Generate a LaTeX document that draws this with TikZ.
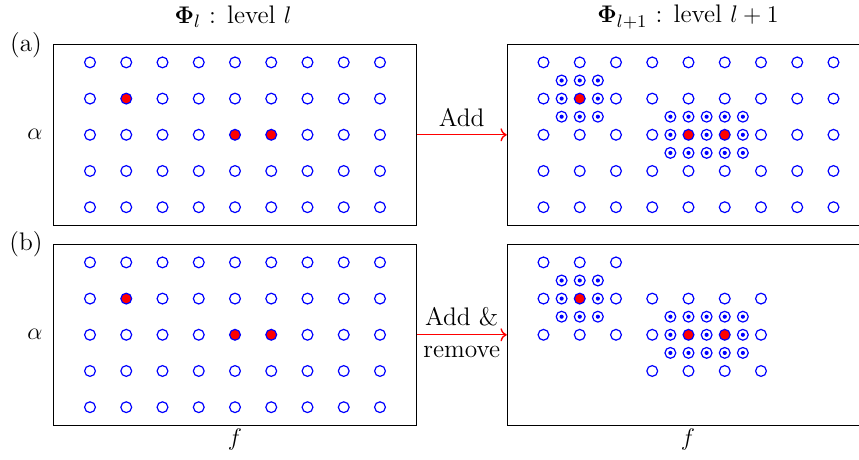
\documentclass[tikz,border=0pt]{standalone}
\usetikzlibrary{arrows.meta}
\begin{document}
\begin{tikzpicture}[x=0.5pt,y=-0.5pt,
  font=\fontsize{12.7}{15.2}\selectfont,
  pt/.style={circle,draw=blue,line width=0.6pt,minimum size=5.4pt,inner sep=0pt},
  redpt/.style={pt,fill=red},
  dotpt/.style={pt,path picture={\fill[blue] (path picture bounding box.center) circle (1.05pt);}},
  panel/.style={draw=black,line width=0.5pt,minimum width=181.25pt,minimum height=90.5pt,inner sep=0pt},
  conn/.style={red,line width=0.7pt,->},
  lbl/.style={text=black}]
\useasboundingbox (0,0) rectangle (859,460);
\clip (0,0) rectangle (859,460);

% ---------- (a) left panel
\begin{scope}[xshift=45pt,yshift=-31.2pt,x=9.0625pt,y=-9.05pt]
  \node[panel] (LA) at (8,4) {};
  \foreach \c in {0,...,8}{\foreach \r in {0,...,4}{
    \pgfmathtruncatemacro\isr{((\c==1)&&(\r==1))||((\c==4)&&(\r==2))||((\c==5)&&(\r==2))}
    \ifnum\isr=1 \node[redpt] (LA-\c-\r) at ({2*\c},{2*\r}) {};
    \else \node[pt] (LA-\c-\r) at ({2*\c},{2*\r}) {}; \fi
  }}
\end{scope}

% ---------- (a) right panel
\begin{scope}[xshift=271.75pt,yshift=-31.2pt,x=9.0625pt,y=-9.05pt]
  \node[panel] (RA) at (8,4) {};
  \foreach \c in {0,...,8}{\foreach \r in {0,...,4}{
    \pgfmathtruncatemacro\isr{((\c==1)&&(\r==1))||((\c==4)&&(\r==2))||((\c==5)&&(\r==2))}
    \ifnum\isr=1 \node[redpt] (RA-\c-\r) at ({2*\c},{2*\r}) {};
    \else \node[pt] (RA-\c-\r) at ({2*\c},{2*\r}) {}; \fi
  }}
  \foreach \u/\v in {1/1,2/1,3/1,1/2,3/2,1/3,2/3,3/3,7/3,8/3,9/3,10/3,11/3,7/4,9/4,11/4,7/5,8/5,9/5,10/5,11/5}
    \node[dotpt] (RAd-\u-\v) at (\u,\v) {};
\end{scope}

% ---------- (b) left panel
\begin{scope}[xshift=45pt,yshift=-131.2pt,x=9.0625pt,y=-9.05pt]
  \node[panel] (LB) at (8,4) {};
  \foreach \c in {0,...,8}{\foreach \r in {0,...,4}{
    \pgfmathtruncatemacro\isr{((\c==1)&&(\r==1))||((\c==4)&&(\r==2))||((\c==5)&&(\r==2))}
    \ifnum\isr=1 \node[redpt] (LB-\c-\r) at ({2*\c},{2*\r}) {};
    \else \node[pt] (LB-\c-\r) at ({2*\c},{2*\r}) {}; \fi
  }}
\end{scope}

% ---------- (b) right panel
\begin{scope}[xshift=271.75pt,yshift=-131.2pt,x=9.0625pt,y=-9.05pt]
  \node[panel] (RB) at (8,4) {};
  \foreach \c in {0,...,8}{\foreach \r in {0,...,4}{
    \pgfmathtruncatemacro\isr{((\c==1)&&(\r==1))||((\c==4)&&(\r==2))||((\c==5)&&(\r==2))}
    \pgfmathtruncatemacro\keep{((\c<=2)&&(\r<=2))||((\c>=3)&&(\c<=6)&&(\r>=1)&&(\r<=3))}
    \ifnum\isr=1 \node[redpt] (RB-\c-\r) at ({2*\c},{2*\r}) {};
    \else \ifnum\keep=1 \node[pt] (RB-\c-\r) at ({2*\c},{2*\r}) {}; \fi \fi
  }}
  \foreach \u/\v in {1/1,2/1,3/1,1/2,3/2,1/3,2/3,3/3,7/3,8/3,9/3,10/3,11/3,7/4,9/4,11/4,7/5,8/5,9/5,10/5,11/5}
    \node[dotpt] (RBd-\u-\v) at (\u,\v) {};
\end{scope}

% ---------- connectors
\draw[conn] (LA.east) -- node[lbl,above=0.5pt] (addA) {Add} (RA.west);
\draw[conn] (LB.east) -- node[lbl,above=0.5pt] (addB) {Add \&}
                         node[lbl,below=2pt] (remB) {remove} (RB.west);

% ---------- labels
\node (tL) at (233,17) {$\mathbf{\Phi}_l$ : level $l$};
\node (tR) at (688,17) {$\mathbf{\Phi}_{l+1}$ : level $l+1$};
\node (lab-a) at (26,45) {(a)};
\node (lab-b) at (26,244) {(b)};
\node (alA) at (35,134.8) {$\alpha$};
\node (alB) at (35,334.8) {$\alpha$};
\node (fL) at (235,440) {$f$};
\node (fR) at (688,440) {$f$};
\end{tikzpicture}
\end{document}
